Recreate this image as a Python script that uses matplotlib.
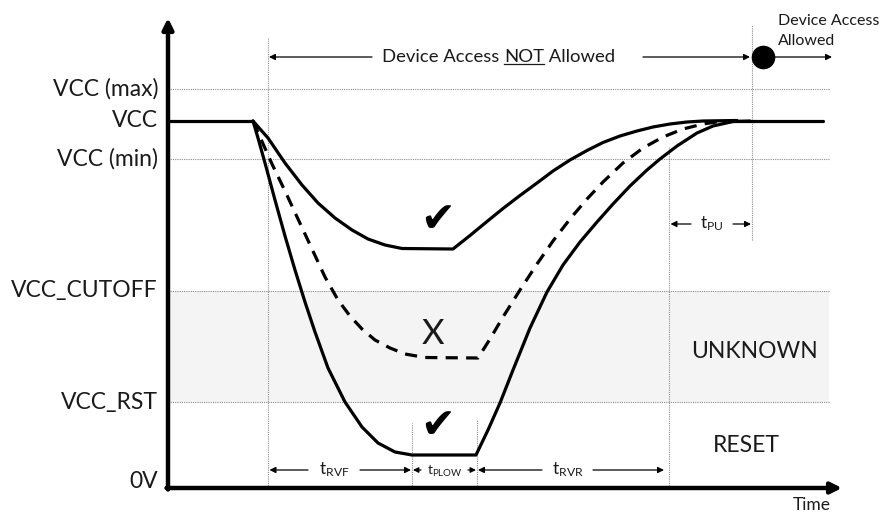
import matplotlib
matplotlib.use('Agg')
import matplotlib.pyplot as plt

plt.rcParams['font.family'] = ['Lato', 'DejaVu Sans']
plt.rcParams['mathtext.fontset'] = 'custom'
plt.rcParams['mathtext.rm'] = 'Lato'
plt.rcParams['mathtext.it'] = 'Lato'

# ---------------- data ----------------
level_names = ['VCC (max)', 'VCC', 'VCC (min)', 'VCC_CUTOFF', 'VCC_RST', '0V']
level_values = [3.99, 3.67, 3.29, 1.97, 0.86, 0.0]
grid_levels = [3.99, 3.29, 1.97, 0.86]

# steady supply before / after the dip
steady_before_t = [0.0, 8.5]
steady_before_v = [3.67, 3.67]
steady_after_t = [55.5, 65.5]
steady_after_v = [3.67, 3.67]

# shallow dip (OK)
shallow_t = [8.5, 10.0, 11.7, 13.4, 15.0, 16.7, 18.4, 20.0, 21.7, 23.4, 28.5,
             30.2, 31.9, 33.5, 35.2, 36.9, 38.5, 40.2, 41.9, 43.5, 45.2, 46.9,
             48.5, 50.2, 51.9, 53.5, 56.9]
shallow_v = [3.67, 3.50, 3.25, 3.03, 2.85, 2.70, 2.58, 2.49, 2.43, 2.395, 2.39,
             2.525, 2.665, 2.795, 2.925, 3.05, 3.17, 3.28, 3.375, 3.455, 3.52, 3.57,
             3.61, 3.64, 3.66, 3.67, 3.675]

# dip into the unknown region (not OK) - dashed
unknown_t = [8.5, 9.2, 10.4, 11.7, 13.0, 14.4, 15.7, 17.0, 18.2, 19.4, 20.7, 22.2,
             23.7, 25.7, 31.0, 32.2, 33.5, 35.2, 36.9, 38.5, 40.2, 41.9, 43.5,
             45.5, 47.5, 49.5, 51.5, 53.5, 55.5]
unknown_v = [3.67, 3.51, 3.24, 2.97, 2.69, 2.39, 2.11, 1.88, 1.72, 1.59, 1.48, 1.40,
             1.34, 1.305, 1.30, 1.49, 1.71, 1.98, 2.24, 2.47, 2.69, 2.89, 3.06,
             3.25, 3.40, 3.51, 3.59, 3.64, 3.67]

# deep dip to reset (OK)
deep_t = [8.5, 9.0, 9.7, 10.7, 11.7, 12.7, 13.7, 14.7, 16.0, 17.7, 19.4, 21.0,
          22.7, 24.4, 30.8, 32.0, 33.2, 34.5, 36.2, 37.9, 39.5, 41.2, 42.9, 44.5,
          46.2, 47.9, 49.2, 50.9, 52.9, 54.5, 56.5, 58.2]
deep_v = [3.67, 3.50, 3.25, 2.88, 2.52, 2.18, 1.86, 1.56, 1.20, 0.86, 0.61, 0.45,
          0.36, 0.33, 0.33, 0.58, 0.85, 1.18, 1.60, 1.96, 2.23, 2.46, 2.66, 2.84,
          3.02, 3.18, 3.29, 3.42, 3.55, 3.62, 3.665, 3.67]

# timing markers
t_access_lost = 10.0
t_plow_start = 24.4
t_plow_end = 30.9
t_rvr_end = 50.1
t_pu_end = 58.4

# ---------------- figure ----------------
fig = plt.figure(figsize=(8.84, 5.13), dpi=100)
ax = fig.add_axes([0, 0, 1, 1])
ax.set_xlim(-16.8, 71.6)
ax.set_ylim(-0.25, 4.88)
ax.axis('off')

grid_kw = dict(color='#8c8c8c', lw=0.8, ls=(0, (1, 1)), zorder=1)
X_END = 66.1

# shaded unknown band
ax.fill_between([0, X_END], [0.86, 0.86], [1.97, 1.97], color='#f4f4f4', zorder=0, lw=0)

for lv in grid_levels:
    ax.plot([0, X_END], [lv, lv], **grid_kw)

# vertical markers
ax.plot([t_access_lost, t_access_lost], [0, 4.50], **grid_kw)
ax.plot([t_plow_start, t_plow_start], [0, 0.65], **grid_kw)
ax.plot([t_plow_end, t_plow_end], [0, 0.68], **grid_kw)
ax.plot([t_rvr_end, t_rvr_end], [0, 3.41], **grid_kw)
ax.plot([t_pu_end, t_pu_end], [2.48, 4.63], **grid_kw)

# level labels
for name, v in zip(level_names, level_values):
    ax.text(-1.0, v + (0.06 if v == 0 else 0), name, ha='right', va='center',
            fontsize=16.5, color='#1a1a1a')

# axes arrows
ax.annotate('', xy=(67.4, 0), xytext=(-0.15, 0),
            arrowprops=dict(arrowstyle='-|>', lw=3.2, color='black',
                            mutation_scale=16, shrinkA=0, shrinkB=0), zorder=6)
ax.annotate('', xy=(0, 4.70), xytext=(0, -0.015),
            arrowprops=dict(arrowstyle='-|>', lw=3.2, color='black',
                            mutation_scale=16, shrinkA=0, shrinkB=0), zorder=6)

# signal curves
line_kw = dict(color='black', lw=2.3, solid_joinstyle='round', solid_capstyle='round', zorder=4)
ax.plot(steady_before_t, steady_before_v, **line_kw)
ax.plot(steady_after_t, steady_after_v, **line_kw)
ax.plot(shallow_t, shallow_v, **line_kw)
ax.plot(deep_t, deep_v, **line_kw)
ax.plot(unknown_t, unknown_v, color='black', lw=2.3, dashes=(3.8, 2.6), zorder=4)


def arrow(x0, x1, y, lw=0.9, ms=9):
    ax.annotate('', xy=(x1, y), xytext=(x0, y),
                arrowprops=dict(arrowstyle='-|>', lw=lw, color='black',
                                mutation_scale=ms, shrinkA=0, shrinkB=0), zorder=5)


# top banner
y_top = 4.31
arrow(20.4, 10.1, y_top)
arrow(47.5, 58.2, y_top)
arrow(60.4, 66.4, y_top)
ax.plot([59.5], [y_top], 'o', color='black', ms=16, zorder=6)
t_pre = ax.text(33.6, y_top, 'Device Access ', ha='right', va='center', fontsize=13.3, color='#1a1a1a')
t_not = ax.text(33.6, y_top, 'NOT', ha='left', va='center', fontsize=13.3, color='#1a1a1a')
fig.canvas.draw()
r = fig.canvas.get_renderer()
bb = t_not.get_window_extent(r)
inv = ax.transData.inverted()
(nx0, ny0), (nx1, ny1) = inv.transform([(bb.x0, bb.y0), (bb.x1, bb.y1)])
ax.plot([nx0, nx1], [ny0 + 0.01, ny0 + 0.01], color='#1a1a1a', lw=0.9)
ax.text(nx1, y_top, ' Allowed', ha='left', va='center', fontsize=13.3, color='#1a1a1a')

ax.text(61.0, 4.67, 'Device Access', ha='left', va='center', fontsize=11.5, color='#1a1a1a')
ax.text(61.0, 4.47, 'Allowed', ha='left', va='center', fontsize=11.5, color='#1a1a1a')

# bottom timing arrows
y_b = 0.18
arrow(14.0, 10.15, y_b)
arrow(19.2, 24.3, y_b)
ax.text(16.6, y_b, r'$\mathrm{t_{RVF}}$', ha='center', va='center', fontsize=12.5, color='#1a1a1a')
arrow(25.3, 24.5, y_b, ms=8)
arrow(30.0, 30.8, y_b, ms=8)
ax.text(27.65, y_b - 0.01, r'$\mathrm{t_{PLOW}}$', ha='center', va='center', fontsize=10, color='#1a1a1a')
arrow(37.4, 31.0, y_b)
arrow(42.5, 49.6, y_b)
ax.text(40.0, y_b, r'$\mathrm{t_{RVR}}$', ha='center', va='center', fontsize=12.5, color='#1a1a1a')

# tPU
y_pu = 2.64
arrow(52.3, 50.25, y_pu)
arrow(56.5, 58.3, y_pu)
ax.text(54.4, y_pu, r'$\mathrm{t_{PU}}$', ha='center', va='center', fontsize=12.5, color='#1a1a1a')

# marks
ax.text(26.95, 2.68, '\u2714', ha='center', va='center', fontsize=30, family='DejaVu Sans')
ax.text(27.0, 0.62, '\u2714', ha='center', va='center', fontsize=30, family='DejaVu Sans')
ax.text(26.5, 1.54, 'X', ha='center', va='center', fontsize=25, color='#1a1a1a')

# region labels
ax.text(58.6, 1.36, 'UNKNOWN', ha='center', va='center', fontsize=16.5, color='#1a1a1a')
ax.text(57.8, 0.43, 'RESET', ha='center', va='center', fontsize=16.5, color='#1a1a1a')
ax.text(64.4, -0.17, 'Time', ha='center', va='center', fontsize=12.5, color='#1a1a1a')

fig.savefig('out.png', dpi=100)
